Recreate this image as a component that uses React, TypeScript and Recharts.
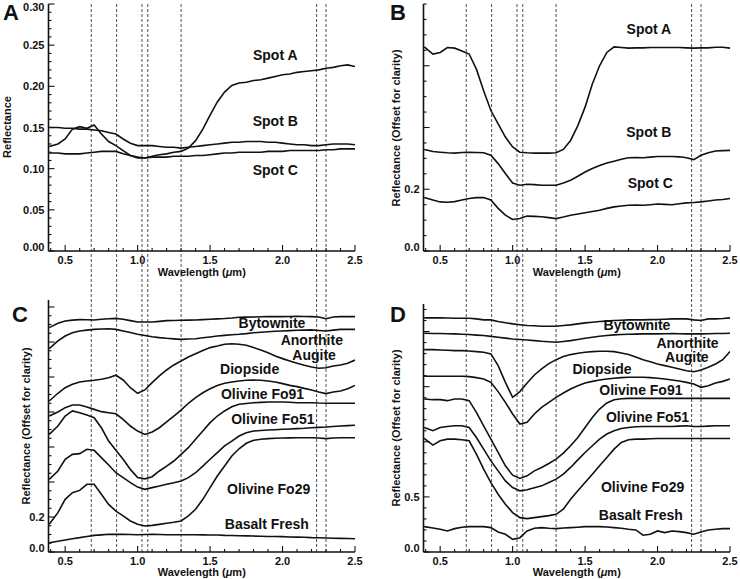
import React from 'react';
import { LineChart, Line, XAxis, YAxis, ReferenceLine, ReferenceDot } from 'recharts';

const FONT = '"Liberation Sans", Arial, Helvetica, sans-serif';
const INK = '#111';

// wavelength grid (um), shared by every spectrum
const wl = [0.39, 0.45, 0.5, 0.55, 0.6, 0.65, 0.7, 0.75, 0.8, 0.85, 0.9, 0.95, 1.0, 1.05, 1.1, 1.15, 1.2, 1.25, 1.3, 1.35, 1.4, 1.45, 1.5, 1.55, 1.6, 1.65, 1.7, 1.75, 1.8, 1.85, 1.9, 1.95, 2.0, 2.05, 2.1, 2.15, 2.2, 2.25, 2.3, 2.35, 2.4, 2.45, 2.5];

// panel A - absolute reflectance
const spotA = [0.127, 0.130, 0.136, 0.148, 0.151, 0.149, 0.153, 0.142, 0.133, 0.128, 0.122, 0.116, 0.113, 0.113, 0.115, 0.117, 0.118, 0.120, 0.121, 0.125, 0.134, 0.148, 0.165, 0.181, 0.193, 0.201, 0.204, 0.205, 0.207, 0.208, 0.210, 0.212, 0.214, 0.215, 0.217, 0.218, 0.219, 0.220, 0.222, 0.223, 0.225, 0.226, 0.224];
const spotB = [0.150, 0.150, 0.149, 0.149, 0.148, 0.148, 0.147, 0.146, 0.144, 0.142, 0.136, 0.131, 0.128, 0.128, 0.128, 0.127, 0.126, 0.126, 0.125, 0.126, 0.127, 0.128, 0.129, 0.130, 0.131, 0.132, 0.132, 0.133, 0.133, 0.133, 0.132, 0.132, 0.131, 0.130, 0.129, 0.129, 0.128, 0.128, 0.129, 0.130, 0.130, 0.130, 0.129];
const spotC = [0.119, 0.119, 0.118, 0.118, 0.118, 0.119, 0.120, 0.121, 0.121, 0.121, 0.118, 0.116, 0.114, 0.113, 0.114, 0.114, 0.114, 0.115, 0.115, 0.115, 0.116, 0.116, 0.117, 0.118, 0.119, 0.119, 0.120, 0.120, 0.120, 0.120, 0.121, 0.121, 0.121, 0.122, 0.122, 0.122, 0.122, 0.122, 0.123, 0.123, 0.124, 0.124, 0.124];

// panel B - continuum removed, offset
const bSpotA = [0.661, 0.638, 0.643, 0.659, 0.657, 0.648, 0.638, 0.589, 0.519, 0.455, 0.412, 0.369, 0.337, 0.320, 0.318, 0.317, 0.317, 0.317, 0.318, 0.329, 0.358, 0.406, 0.466, 0.541, 0.600, 0.643, 0.661, 0.659, 0.657, 0.658, 0.658, 0.659, 0.659, 0.659, 0.659, 0.659, 0.658, 0.657, 0.658, 0.658, 0.660, 0.660, 0.657];
const bSpotB = [0.329, 0.322, 0.320, 0.318, 0.317, 0.319, 0.320, 0.319, 0.318, 0.310, 0.283, 0.251, 0.220, 0.213, 0.216, 0.215, 0.213, 0.213, 0.213, 0.220, 0.229, 0.242, 0.256, 0.267, 0.277, 0.285, 0.291, 0.297, 0.302, 0.303, 0.302, 0.304, 0.306, 0.306, 0.306, 0.305, 0.302, 0.296, 0.310, 0.318, 0.324, 0.325, 0.326];
const bSpotC = [0.173, 0.165, 0.159, 0.158, 0.160, 0.165, 0.170, 0.173, 0.173, 0.165, 0.138, 0.116, 0.102, 0.105, 0.113, 0.112, 0.111, 0.108, 0.105, 0.110, 0.116, 0.120, 0.124, 0.128, 0.132, 0.138, 0.143, 0.146, 0.148, 0.149, 0.148, 0.150, 0.152, 0.151, 0.150, 0.153, 0.156, 0.157, 0.159, 0.162, 0.165, 0.167, 0.170];

// panel C - lab minerals, offset
const cByt = [1.282, 1.307, 1.320, 1.325, 1.328, 1.327, 1.326, 1.330, 1.333, 1.335, 1.330, 1.322, 1.314, 1.314, 1.314, 1.318, 1.322, 1.323, 1.324, 1.325, 1.326, 1.328, 1.330, 1.332, 1.334, 1.337, 1.341, 1.342, 1.343, 1.344, 1.345, 1.345, 1.345, 1.346, 1.347, 1.346, 1.345, 1.343, 1.333, 1.343, 1.345, 1.345, 1.345];
const cAnor = [1.162, 1.206, 1.234, 1.253, 1.263, 1.268, 1.272, 1.274, 1.276, 1.272, 1.263, 1.254, 1.244, 1.237, 1.230, 1.225, 1.221, 1.218, 1.215, 1.217, 1.219, 1.224, 1.229, 1.234, 1.238, 1.241, 1.244, 1.248, 1.253, 1.256, 1.259, 1.261, 1.263, 1.265, 1.267, 1.268, 1.269, 1.266, 1.263, 1.268, 1.272, 1.272, 1.272];
const cAug = [0.863, 0.907, 0.939, 0.958, 0.971, 0.977, 0.981, 0.987, 0.996, 1.010, 0.983, 0.939, 0.907, 0.926, 0.968, 1.006, 1.040, 1.069, 1.091, 1.114, 1.133, 1.152, 1.168, 1.177, 1.187, 1.190, 1.187, 1.181, 1.168, 1.154, 1.139, 1.120, 1.105, 1.091, 1.078, 1.067, 1.057, 1.050, 1.053, 1.063, 1.069, 1.078, 1.097];
const cDio = [0.777, 0.800, 0.825, 0.840, 0.840, 0.829, 0.815, 0.802, 0.796, 0.790, 0.758, 0.720, 0.691, 0.672, 0.686, 0.710, 0.743, 0.777, 0.811, 0.850, 0.882, 0.910, 0.933, 0.952, 0.964, 0.971, 0.977, 0.981, 0.983, 0.981, 0.977, 0.971, 0.962, 0.952, 0.945, 0.935, 0.926, 0.914, 0.905, 0.914, 0.920, 0.933, 0.952];
const cFo91 = [0.672, 0.720, 0.777, 0.806, 0.796, 0.783, 0.767, 0.710, 0.634, 0.581, 0.530, 0.472, 0.425, 0.418, 0.430, 0.463, 0.491, 0.520, 0.558, 0.596, 0.644, 0.691, 0.739, 0.777, 0.806, 0.830, 0.844, 0.849, 0.853, 0.855, 0.857, 0.857, 0.857, 0.856, 0.853, 0.853, 0.853, 0.851, 0.850, 0.850, 0.850, 0.850, 0.850];
const cFo51 = [0.415, 0.463, 0.530, 0.558, 0.562, 0.587, 0.581, 0.539, 0.497, 0.453, 0.425, 0.396, 0.371, 0.358, 0.368, 0.377, 0.387, 0.396, 0.406, 0.425, 0.453, 0.491, 0.530, 0.568, 0.606, 0.634, 0.663, 0.682, 0.691, 0.694, 0.697, 0.699, 0.701, 0.703, 0.705, 0.707, 0.710, 0.712, 0.714, 0.717, 0.720, 0.722, 0.724];
const cFo29 = [0.158, 0.225, 0.301, 0.339, 0.352, 0.387, 0.387, 0.330, 0.272, 0.234, 0.206, 0.177, 0.158, 0.149, 0.152, 0.158, 0.164, 0.170, 0.177, 0.206, 0.244, 0.301, 0.368, 0.434, 0.491, 0.549, 0.590, 0.621, 0.638, 0.644, 0.648, 0.650, 0.651, 0.652, 0.653, 0.653, 0.653, 0.651, 0.648, 0.651, 0.653, 0.653, 0.653];
const cBasalt = [0.053, 0.061, 0.069, 0.076, 0.082, 0.089, 0.095, 0.098, 0.101, 0.101, 0.101, 0.100, 0.099, 0.100, 0.101, 0.100, 0.099, 0.099, 0.099, 0.099, 0.099, 0.098, 0.097, 0.097, 0.095, 0.094, 0.093, 0.092, 0.091, 0.090, 0.089, 0.089, 0.088, 0.086, 0.085, 0.084, 0.082, 0.081, 0.080, 0.079, 0.078, 0.077, 0.076];

// panel D - lab minerals, continuum removed, offset
const dByt = [2.124, 2.124, 2.124, 2.123, 2.121, 2.121, 2.121, 2.115, 2.106, 2.106, 2.091, 2.080, 2.070, 2.062, 2.055, 2.052, 2.048, 2.048, 2.048, 2.055, 2.061, 2.070, 2.079, 2.085, 2.091, 2.095, 2.100, 2.103, 2.106, 2.106, 2.106, 2.108, 2.109, 2.112, 2.115, 2.115, 2.115, 2.106, 2.100, 2.115, 2.115, 2.118, 2.124];
const dAnor = [1.985, 1.983, 1.982, 1.980, 1.979, 1.976, 1.973, 1.968, 1.964, 1.956, 1.948, 1.940, 1.933, 1.928, 1.924, 1.918, 1.912, 1.908, 1.903, 1.910, 1.918, 1.928, 1.939, 1.948, 1.958, 1.964, 1.970, 1.973, 1.976, 1.977, 1.979, 1.979, 1.979, 1.980, 1.982, 1.980, 1.979, 1.979, 1.979, 1.980, 1.982, 1.983, 1.985];
const dAug = [1.836, 1.836, 1.833, 1.830, 1.827, 1.827, 1.824, 1.818, 1.812, 1.797, 1.691, 1.539, 1.403, 1.455, 1.533, 1.606, 1.661, 1.709, 1.745, 1.773, 1.791, 1.803, 1.812, 1.818, 1.821, 1.821, 1.818, 1.806, 1.791, 1.770, 1.745, 1.727, 1.706, 1.691, 1.676, 1.661, 1.645, 1.636, 1.652, 1.676, 1.706, 1.745, 1.818];
const dDio = [1.594, 1.594, 1.594, 1.594, 1.594, 1.594, 1.591, 1.582, 1.570, 1.539, 1.455, 1.358, 1.252, 1.161, 1.176, 1.252, 1.312, 1.358, 1.403, 1.442, 1.479, 1.509, 1.533, 1.548, 1.561, 1.570, 1.576, 1.582, 1.585, 1.585, 1.585, 1.582, 1.576, 1.570, 1.561, 1.552, 1.539, 1.524, 1.494, 1.509, 1.533, 1.548, 1.570];
const dFo91 = [1.388, 1.382, 1.382, 1.373, 1.388, 1.388, 1.373, 1.267, 1.145, 1.024, 0.903, 0.782, 0.697, 0.667, 0.691, 0.736, 0.767, 0.803, 0.842, 0.897, 0.964, 1.039, 1.130, 1.221, 1.297, 1.352, 1.382, 1.391, 1.394, 1.394, 1.394, 1.394, 1.394, 1.394, 1.394, 1.394, 1.394, 1.394, 1.394, 1.394, 1.394, 1.394, 1.394];
const dFo51 = [1.130, 1.100, 1.130, 1.139, 1.145, 1.145, 1.130, 1.039, 0.933, 0.827, 0.736, 0.645, 0.585, 0.555, 0.564, 0.582, 0.600, 0.630, 0.661, 0.706, 0.767, 0.836, 0.903, 0.964, 1.024, 1.070, 1.100, 1.121, 1.130, 1.136, 1.139, 1.139, 1.139, 1.139, 1.139, 1.142, 1.145, 1.139, 1.139, 1.142, 1.145, 1.145, 1.145];
const dFo29 = [1.030, 0.970, 1.009, 1.024, 1.024, 1.018, 1.009, 0.888, 0.752, 0.630, 0.524, 0.433, 0.358, 0.312, 0.303, 0.312, 0.321, 0.330, 0.342, 0.388, 0.479, 0.555, 0.630, 0.706, 0.782, 0.858, 0.933, 0.994, 1.018, 1.024, 1.024, 1.027, 1.030, 1.030, 1.030, 1.030, 1.030, 1.030, 1.030, 1.030, 1.030, 1.030, 1.030];
const dBasalt = [0.230, 0.218, 0.206, 0.191, 0.212, 0.225, 0.230, 0.230, 0.230, 0.221, 0.182, 0.161, 0.115, 0.130, 0.191, 0.215, 0.221, 0.215, 0.212, 0.218, 0.221, 0.225, 0.230, 0.230, 0.230, 0.227, 0.221, 0.215, 0.206, 0.200, 0.152, 0.161, 0.191, 0.176, 0.191, 0.185, 0.176, 0.161, 0.182, 0.200, 0.206, 0.212, 0.212];

// absorption band guides (dashed verticals)
const bands = [0.68, 0.855, 1.03, 1.07, 1.3, 2.235, 2.3];

const xDomain: [number, number] = [0.385, 2.5];
const xTicks = [0.4, 0.5, 0.6, 0.7, 0.8, 0.9, 1.0, 1.1, 1.2, 1.3, 1.4, 1.5, 1.6, 1.7, 1.8, 1.9, 2.0, 2.1, 2.2, 2.3, 2.4, 2.5];
const xLabels = [0.5, 1.0, 1.5, 2.0, 2.5];

const aMajors = [0, 0.05, 0.1, 0.15, 0.2, 0.25, 0.3];
const bMajors = [0, 0.2, 0.4, 0.6];
const bLabels = [0, 0.2];
const cMajors = [0, 0.2, 0.4, 0.6, 0.8, 1.0, 1.2, 1.4];
const cLabels = [0, 0.2];
const dMajors = [0, 0.5, 1.0, 1.5, 2.0];
const dLabels = [0, 0.5];

// minor tick positions
const steps = (hi: number, step: number) =>
  Array.from({ length: Math.round(hi / step) + 1 }, (_, i) => +(i * step).toFixed(3));

const has = (list: number[], v: number) => list.some((m) => Math.abs(m - v) < 1e-6);

const frame = { stroke: INK, strokeWidth: 1.6 };
const tickStroke = { stroke: INK, strokeWidth: 1.1 };
const txt = { fontFamily: FONT, fontWeight: 'bold' as const, fill: INK };

const bottomTick = (majors: number[]) => (p: any) => {
  const v = p.payload.value;
  const big = has(majors, v);
  return (
    <g>
      <line x1={p.x} x2={p.x} y1={p.y} y2={p.y - (big ? 6 : 3)} {...tickStroke} />
      {big && (
        <text x={p.x} y={p.y + 9} textAnchor="middle" dominantBaseline="central" fontSize={11} {...txt}>
          {v.toFixed(1)}
        </text>
      )}
    </g>
  );
};

const topTick = (majors: number[]) => (p: any) => {
  const big = has(majors, p.payload.value);
  return <line x1={p.x} x2={p.x} y1={p.y} y2={p.y + (big ? 6 : 3)} {...tickStroke} />;
};

const leftTick = (majors: number[], labels: number[], digits: number, yMax: number) => (p: any) => {
  const v = p.payload.value;
  const big = has(majors, v);
  // labels at the frame edges sit a little inside the box, as in the source figure
  const shift = v === 0 ? -4 : Math.abs(v - yMax) < 1e-6 ? 3 : 0;
  return (
    <g>
      <line x1={p.x} x2={p.x + (big ? 6 : 3)} y1={p.y} y2={p.y} {...tickStroke} />
      {has(labels, v) && (
        <text x={p.x - 4} y={p.y + shift} textAnchor="end" dominantBaseline="central" fontSize={11} {...txt}>
          {v.toFixed(digits)}
        </text>
      )}
    </g>
  );
};

const rightTick = (majors: number[]) => (p: any) => {
  const big = has(majors, p.payload.value);
  return <line x1={p.x} x2={p.x - (big ? 6 : 3)} y1={p.y} y2={p.y} {...tickStroke} />;
};

type Curve = { key: string; values: number[] };
type Note = { text: string; x: number; y: number };

interface PanelProps {
  left: number;
  top: number;
  height: number;
  marginTop: number;
  marginRight: number;
  yWidth: number;
  xHeight: number;
  yMax: number;
  yStep: number;
  yMajors: number[];
  yLabels: number[];
  digits: number;
  curves: Curve[];
  notes: Note[];
}

function Panel({ left, top, height, marginTop, marginRight, yWidth, xHeight, yMax, yStep, yMajors, yLabels, digits, curves, notes }: PanelProps) {
  const rows = wl.map((w, i) => {
    const r: Record<string, number> = { w };
    curves.forEach((c) => {
      r[c.key] = c.values[i];
    });
    return r;
  });
  const yTicks = steps(yMax, yStep).filter((t) => t <= yMax + 1e-9);

  return (
    <div style={{ position: 'absolute', left, top }}>
      <LineChart width={370} height={height} data={rows} margin={{ top: marginTop, right: marginRight, bottom: 0, left: 0 }}>
        <XAxis xAxisId="b" dataKey="w" type="number" domain={xDomain} allowDataOverflow ticks={xTicks} interval={0}
          tickSize={0} tickMargin={0} tickLine={false} height={xHeight} axisLine={frame} tick={bottomTick(xLabels)} />
        <XAxis xAxisId="t" dataKey="w" type="number" orientation="top" domain={xDomain} allowDataOverflow ticks={xTicks} interval={0}
          tickSize={0} tickMargin={0} tickLine={false} height={0} axisLine={frame} tick={topTick(xLabels)} />
        <YAxis yAxisId="l" type="number" domain={[0, yMax]} allowDataOverflow ticks={yTicks} interval={0}
          tickSize={0} tickMargin={0} tickLine={false} width={yWidth} axisLine={frame} tick={leftTick(yMajors, yLabels, digits, yMax)} />
        <YAxis yAxisId="r" type="number" orientation="right" domain={[0, yMax]} allowDataOverflow ticks={yTicks} interval={0}
          tickSize={0} tickMargin={0} tickLine={false} width={0} axisLine={frame} tick={rightTick(yMajors)} />
        {curves.map((c) => (
          <Line key={c.key} xAxisId="b" yAxisId="l" dataKey={c.key} type="linear" stroke={INK} strokeWidth={1.6}
            dot={false} isAnimationActive={false} />
        ))}
        {notes.map((n) => (
          <ReferenceDot key={n.text} xAxisId="b" yAxisId="l" x={n.x} y={n.y} r={0} fill="none" stroke="none"
            label={{ value: n.text, position: 'center', fontSize: 14, ...txt }} />
        ))}
      </LineChart>
    </div>
  );
}

function Guides({ left, marginLeft, marginRight }: { left: number; marginLeft: number; marginRight: number }) {
  return (
    <div style={{ position: 'absolute', left, top: 0 }}>
      <LineChart width={370} height={579} data={wl.map((w) => ({ w }))}
        margin={{ top: 4, right: marginRight, bottom: 27, left: marginLeft }}>
        <XAxis dataKey="w" type="number" domain={xDomain} allowDataOverflow hide />
        <YAxis type="number" domain={[0, 1]} allowDataOverflow hide />
        {bands.map((b) => (
          <ReferenceLine key={b} x={b} stroke="#222" strokeWidth={0.8} strokeDasharray="3 2" ifOverflow="visible" />
        ))}
      </LineChart>
    </div>
  );
}

const panelANotes: Note[] = [
  { text: 'Spot A', x: 1.95, y: 0.238 },
  { text: 'Spot B', x: 1.95, y: 0.158 },
  { text: 'Spot C', x: 1.95, y: 0.098 },
];
const panelBNotes: Note[] = [
  { text: 'Spot A', x: 1.94, y: 0.718 },
  { text: 'Spot B', x: 1.94, y: 0.385 },
  { text: 'Spot C', x: 1.95, y: 0.22 },
];
const panelCNotes: Note[] = [
  { text: 'Bytownite', x: 1.927, y: 1.31 },
  { text: 'Anorthite', x: 2.202, y: 1.214 },
  { text: 'Augite', x: 2.218, y: 1.128 },
  { text: 'Diopside', x: 1.773, y: 1.048 },
  { text: 'Olivine Fo91', x: 1.862, y: 0.901 },
  { text: 'Olivine Fo51', x: 1.933, y: 0.758 },
  { text: 'Olivine Fo29', x: 1.904, y: 0.358 },
  { text: 'Basalt Fresh', x: 1.892, y: 0.158 },
];
const panelDNotes: Note[] = [
  { text: 'Bytownite', x: 1.858, y: 2.055 },
  { text: 'Anorthite', x: 2.207, y: 1.893 },
  { text: 'Augite', x: 2.202, y: 1.77 },
  { text: 'Diopside', x: 1.617, y: 1.661 },
  { text: 'Olivine Fo91', x: 1.885, y: 1.473 },
  { text: 'Olivine Fo51', x: 1.931, y: 1.221 },
  { text: 'Olivine Fo29', x: 1.897, y: 0.585 },
  { text: 'Basalt Fresh', x: 1.885, y: 0.333 },
];

const YTitle = ({ x, y, text }: { x: number; y: number; text: string }) => (
  <text x={x} y={y} transform={`rotate(-90 ${x} ${y})`} textAnchor="middle" dominantBaseline="central" fontSize={11} {...txt}>
    {text}
  </text>
);

const XTitle = ({ x, y }: { x: number; y: number }) => (
  <text x={x} y={y} textAnchor="middle" dominantBaseline="central" fontSize={11} {...txt}>
    Wavelength (<tspan fontStyle="italic">μ</tspan>m)
  </text>
);

export default function App() {
  return (
    <div style={{ position: 'absolute', left: 0, top: 0, width: 740, height: 579, background: '#fff', overflow: 'hidden', fontFamily: FONT }}>
      <Guides left={0} marginLeft={48.5} marginRight={15} />
      <Guides left={370} marginLeft={53.5} marginRight={10} />

      <Panel left={0} top={0} height={285} marginTop={4} marginRight={15} yWidth={48.5} xHeight={34}
        yMax={0.3} yStep={0.01} yMajors={aMajors} yLabels={aMajors} digits={2}
        curves={[{ key: 'spotA', values: spotA }, { key: 'spotB', values: spotB }, { key: 'spotC', values: spotC }]}
        notes={panelANotes} />
      <Panel left={370} top={0} height={285} marginTop={4} marginRight={10} yWidth={53.5} xHeight={34}
        yMax={0.8} yStep={0.05} yMajors={bMajors} yLabels={bLabels} digits={1}
        curves={[{ key: 'spotA', values: bSpotA }, { key: 'spotB', values: bSpotB }, { key: 'spotC', values: bSpotC }]}
        notes={panelBNotes} />
      <Panel left={0} top={285} height={294} marginTop={15} marginRight={15} yWidth={48.5} xHeight={27}
        yMax={1.44} yStep={0.05} yMajors={cMajors} yLabels={cLabels} digits={1}
        curves={[
          { key: 'byt', values: cByt }, { key: 'anor', values: cAnor }, { key: 'aug', values: cAug },
          { key: 'dio', values: cDio }, { key: 'fo91', values: cFo91 }, { key: 'fo51', values: cFo51 },
          { key: 'fo29', values: cFo29 }, { key: 'basalt', values: cBasalt },
        ]}
        notes={panelCNotes} />
      <Panel left={370} top={285} height={294} marginTop={19} marginRight={10} yWidth={53.5} xHeight={27}
        yMax={2.25} yStep={0.1} yMajors={dMajors} yLabels={dLabels} digits={1}
        curves={[
          { key: 'byt', values: dByt }, { key: 'anor', values: dAnor }, { key: 'aug', values: dAug },
          { key: 'dio', values: dDio }, { key: 'fo91', values: dFo91 }, { key: 'fo51', values: dFo51 },
          { key: 'fo29', values: dFo29 }, { key: 'basalt', values: dBasalt },
        ]}
        notes={panelDNotes} />

      <svg width={740} height={579} style={{ position: 'absolute', left: 0, top: 0, pointerEvents: 'none' }}>
        <text x={3} y={20} fontSize={22} {...txt}>A</text>
        <text x={390} y={20} fontSize={22} {...txt}>B</text>
        <text x={12} y={322} fontSize={22} {...txt}>C</text>
        <text x={390} y={322} fontSize={22} {...txt}>D</text>
        <YTitle x={6.5} y={127} text="Reflectance" />
        <YTitle x={395.7} y={128} text="Reflectance (Offset for clarity)" />
        <YTitle x={25.7} y={426} text="Reflectance (Offset for clarity)" />
        <YTitle x={395.7} y={428} text="Reflectance (Offset for clarity)" />
        <XTitle x={201.75} y={272} />
        <XTitle x={576.75} y={272} />
        <XTitle x={201.75} y={571.5} />
        <XTitle x={576.75} y={571.5} />
      </svg>
    </div>
  );
}
